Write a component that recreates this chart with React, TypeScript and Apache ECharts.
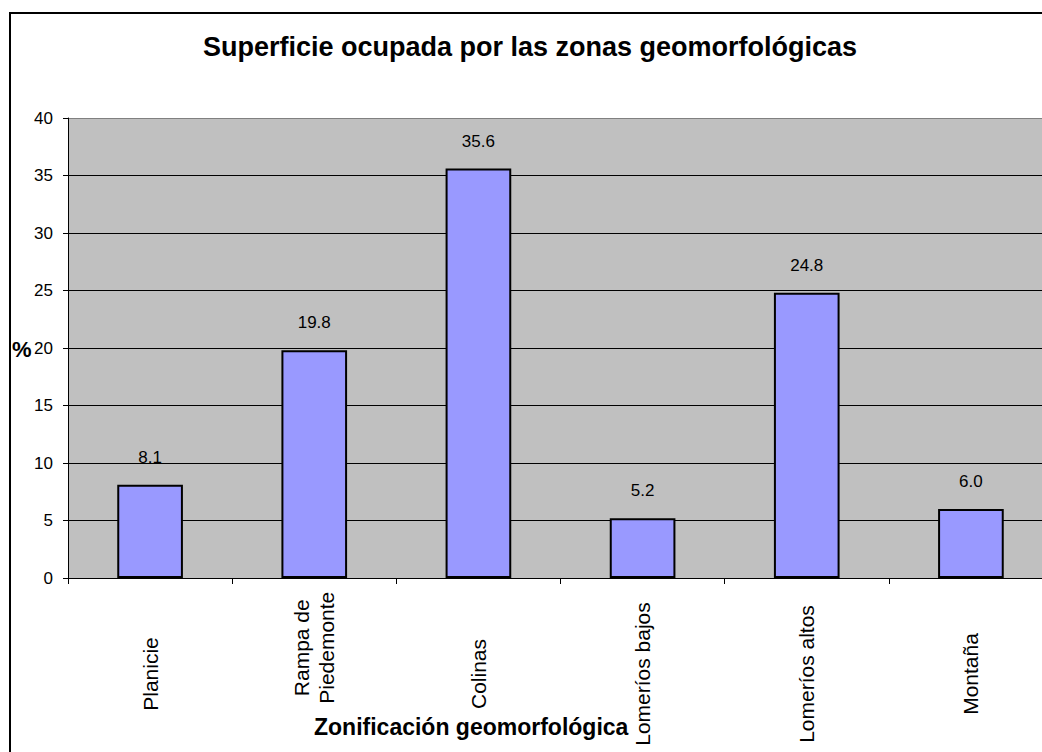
import React, { useEffect, useRef } from "react";
import * as echarts from "echarts";

const categories = ["Planicie", "Rampa de\nPiedemonte", "Colinas", "Lomeríos bajos", "Lomeríos altos", "Montaña"];
const values = [8.1, 19.8, 35.6, 5.2, 24.8, 6.0];
const yMin = 0;
const yMax = 40;
const yStep = 5;
const titleText = "Superficie ocupada por las zonas geomorfológicas";
const xName = "Zonificación geomorfológica";
const yName = "%";

const FONT = "'Liberation Sans', Arial, sans-serif";
const NB = "\u00A0".repeat(9);

export default function App() {
  const ref = useRef<HTMLDivElement>(null);
  useEffect(() => {
    const chart = echarts.init(ref.current!, null, { renderer: "svg" });
    const nSplit = (yMax - yMin) / yStep + 1;
    const splitColors: string[] = [];
    for (let i = 0; i < nSplit; i++) splitColors.push(i === nSplit - 1 ? "#808080" : "#000000");
    chart.setOption({
      animation: false,
      backgroundColor: "#ffffff",
      textStyle: { fontFamily: FONT },
      grid: {
        left: 68,
        top: 118,
        width: 985,
        height: 460,
        show: true,
        backgroundColor: "#C0C0C0",
        borderWidth: 0,
        containLabel: false,
        outerBoundsMode: "none",
      },
      graphic: [
        {
          type: "rect",
          shape: { x: 10, y: 13, width: 1100, height: 800 },
          style: { fill: "none", stroke: "#000", lineWidth: 2 },
          z: 100,
        },
        {
          type: "text",
          x: 530,
          y: 47,
          style: {
            text: titleText,
            fontFamily: FONT,
            fontSize: 27,
            fontWeight: "bold",
            fill: "#000",
            align: "center",
            verticalAlign: "middle",
          },
        },
        {
          type: "text",
          x: 12,
          y: 349,
          style: {
            text: yName,
            fontFamily: FONT,
            fontSize: 22,
            fontWeight: "bold",
            fill: "#000",
            align: "left",
            verticalAlign: "middle",
          },
        },
        {
          type: "text",
          x: 314,
          y: 727,
          style: {
            text: xName,
            fontFamily: FONT,
            fontSize: 23,
            fontWeight: "bold",
            fill: "#000",
            align: "left",
            verticalAlign: "middle",
          },
          z: 50,
        },
      ],
      xAxis: {
        type: "category",
        data: categories,
        axisLine: { show: true, lineStyle: { color: "#000", width: 1 } },
        axisTick: { show: true, length: 6, lineStyle: { color: "#000" }, alignWithLabel: false },
        axisLabel: {
          interval: 0,
          rotate: 90,
          align: "center",
          verticalAlign: "middle",
          margin: 96,
          fontSize: 21,
          lineHeight: 25,
          color: "#000",
          fontFamily: FONT,
          hideOverlap: false,
          formatter: (v: string) =>
            v.indexOf("\n") >= 0 ? v.split("\n").map((s) => NB + s).join("\n") : v,
        },
        splitLine: { show: false },
      },
      yAxis: {
        type: "value",
        min: yMin,
        max: yMax,
        interval: yStep,
        axisLine: { show: true, lineStyle: { color: "#000", width: 1 } },
        axisTick: { show: true, length: 5, lineStyle: { color: "#000" } },
        axisLabel: { fontSize: 17, color: "#000", margin: 15, fontFamily: FONT },
        splitLine: { show: true, lineStyle: { color: splitColors, width: 1 } },
      },
      series: [
        {
          type: "bar",
          data: values,
          barWidth: "40%",
          itemStyle: { color: "#9999FF", borderColor: "#000", borderWidth: 2 },
          label: {
            show: true,
            position: "top",
            distance: 19,
            fontSize: 17,
            color: "#000",
            fontFamily: FONT,
            formatter: (p: any) => Number(p.value).toFixed(1),
          },
        },
      ],
    });
    return () => chart.dispose();
  }, []);
  return (
    <div
      style={{
        position: "fixed",
        left: 0,
        top: 0,
        width: 1042,
        height: 752,
        overflow: "hidden",
        background: "#fff",
      }}
    >
      <div ref={ref} style={{ width: 1100, height: 800 }} />
    </div>
  );
}
